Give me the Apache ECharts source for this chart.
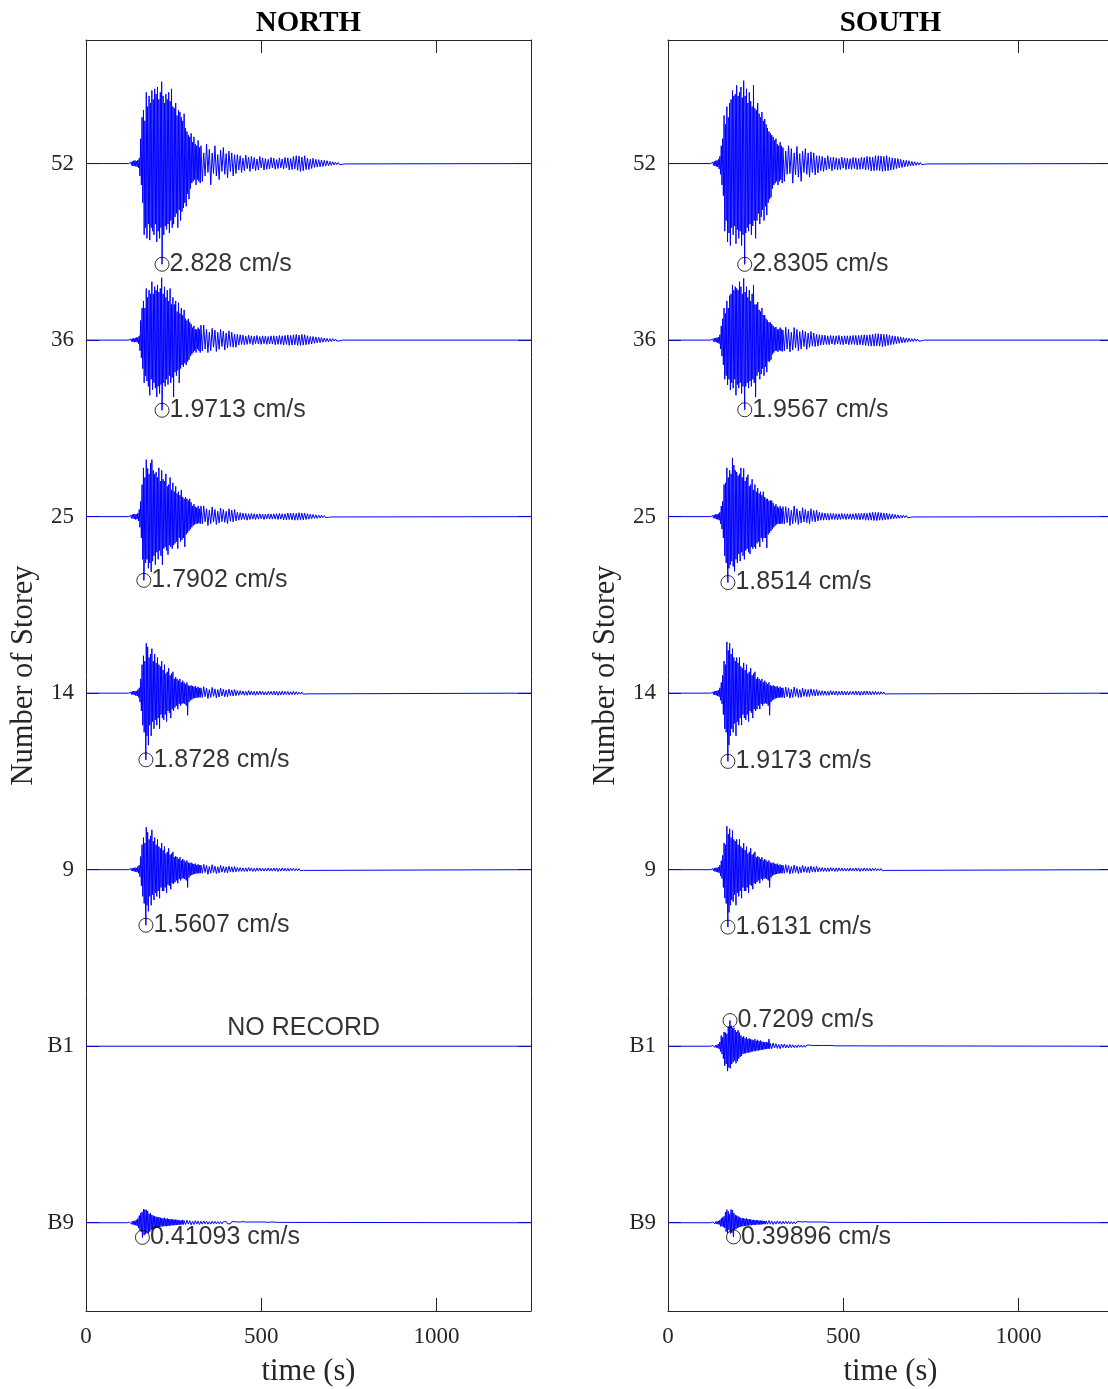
<!DOCTYPE html>
<html>
<head>
<meta charset="utf-8">
<title>Velocity records by storey</title>
<script src="https://cdn.jsdelivr.net/npm/echarts@6/dist/echarts.min.js"></script>
<style>
  html, body { margin: 0; padding: 0; background: #ffffff; }
  #chart { width: 1108px; height: 1389px; }
</style>
</head>
<body>
<div id="chart"></div>
<script>
// Storey levels, bottom to top (index = baseline position on the y axis)
const storeyLabels = ['B9', 'B1', '9', '14', '25', '36', '52'];
const timeTicks = [0, 500, 1000];
const T_MAX = 1270;          // record length, s
const BURST_DT = 2;          // sample spacing in the strong-motion part, s
const CODA_DT = 4;           // sample spacing in the coda, s
const AMP_SCALE = 0.2017;    // storey spacing per cm/s

// Peak velocity (cm/s, signed) and its time (s), per storey B9..52
const northPeakValue = [-0.41093, null, -1.5607, -1.8728, -1.7902, -1.9713, -2.828];
const northPeakTime  = [161, null, 171, 171, 165, 217, 217];
const southPeakValue = [-0.39896, 0.7209, -1.6131, -1.9173, -1.8514, -1.9567, -2.8305];
const southPeakTime  = [187, 177, 171, 171, 171, 219, 219];

// Start time of each record's burst samples (s)
const northBurstStart = [120, null, 124, 124, 124, 124, 124];
const southBurstStart = [124, 124, 124, 124, 124, 124, 124];

// ---- NORTH records (cm/s) ----
const northB9Burst = [0.01,-0.02,0.02,-0.03,0.03,-0.04,0.04,-0.05,0.05,-0.06,0.06,-0.07,0.08,-0.09,0.12,-0.15,
  0.2,-0.22,0.27,-0.25,0.3,-0.3,0.38,-0.35,0.37,-0.32,0.36,-0.28,0.33,-0.3,0.25,-0.25,0.27,-0.2,0.22,-0.18,0.2,-0.17,
  0.18,-0.15,0.17,-0.14,0.15,-0.13,0.16,-0.12,0.14,-0.11,0.13,-0.1,0.12,-0.1,0.14,-0.09,0.11,-0.1,0.12,-0.09,0.1,
  -0.08,0.1,-0.08,0.09,-0.07,0.1,-0.07,0.08,-0.07,0.09,-0.06,0.08,-0.06,0.07,-0.06,0.07,-0.05,0.06,-0.05,0.08,-0.05,0.06];
const northB9Coda = [-0.05,0.07,-0.04,0.06,-0.06,0.04,-0.05,0.06,-0.04,0.05,-0.05,0.04,-0.04,0.05,-0.03,0.04,-0.04,0.03,
  -0.04,0.04,-0.03,0.04,-0.03,0.03,-0.03,
  0.03,-0.03,0.03,-0.02,0.03,-0.03,0.02,-0.03,0.03,-0.02,0.03,-0.02,0.02,-0.03,0.02,-0.02,0.03,-0.02,0.02,-0.02,0.02,
  -0.02,0.02,-0.02,0.02,
  -0.02,0.02,-0.02,0.02,-0.02,0.02,-0.01,0.02,-0.02,0.01,-0.02,0.02,-0.01,0.02,-0.01,0.01,-0.01,0.01,-0.01,0.01];

const north9Burst = [0.02,-0.02,0.03,-0.03,0.04,-0.04,0.05,-0.05,0.06,-0.06,0.05,-0.07,0.09,-0.1,0.13,
  -0.2,0.37,-0.45,0.7,-0.75,0.9,-0.95,0.75,-1.1,1.19,-1.0,1.05,-1.17,0.85,-0.75,0.95,-1.0,1.12,-0.7,0.8,-0.85,0.9,
  -0.65,0.7,-0.75,0.85,-0.6,0.65,-0.8,0.6,-0.5,0.75,-0.6,0.55,-0.6,0.65,-0.5,0.45,-0.65,0.5,-0.42,0.6,-0.45,0.42,
  -0.55,0.45,-0.38,0.5,-0.4,0.35,-0.35,0.38,-0.3,0.35,-0.38,0.3,-0.26,0.35,-0.3,0.26,-0.25,0.3,-0.24,0.26,-0.26,0.22,
  -0.3,0.26,-0.5,0.2,-0.22,0.18,-0.17,0.2,-0.15,0.17,-0.13,0.16,-0.12,0.17,-0.11,0.13,-0.1,0.15,-0.1,0.12,-0.1,0.13];
const north9Coda = [-0.1,0.15,-0.08,0.12,-0.13,0.09,-0.1,0.14,-0.08,0.1,-0.11,0.08,-0.09,0.12,-0.07,0.09,-0.08,0.08,
  -0.09,0.1,-0.06,0.08,-0.07,0.09,-0.06,
  0.06,-0.05,0.06,-0.05,0.05,-0.05,0.05,-0.05,0.06,-0.04,0.05,-0.05,0.04,-0.05,0.05,-0.04,0.05,-0.04,0.04,-0.04,0.04,
  -0.04,0.05,-0.04,0.04,
  -0.04,0.05,-0.04,0.05,-0.05,0.04,-0.04,0.05,-0.04,0.04,-0.04,0.04,-0.04,0.04,-0.03,0.04,-0.03,0.03,-0.03,0.03,-0.03,
  0.02,-0.02,0.02,-0.02];

const north14Burst = [0.02,-0.02,0.03,-0.04,0.05,-0.04,0.06,-0.05,0.06,-0.07,0.06,-0.08,0.1,-0.12,0.15,
  -0.25,0.4,-0.5,0.8,-0.9,1.05,-1.1,0.9,-1.3,1.4,-1.2,1.3,-1.46,1.0,-0.9,1.1,-1.2,1.25,-0.8,0.9,-1.0,1.1,-0.75,0.85,
  -0.9,1.0,-0.7,0.8,-1.0,0.75,-0.6,0.9,-0.7,0.65,-0.75,0.8,-0.6,0.55,-0.8,0.6,-0.5,0.7,-0.55,0.5,-0.7,0.55,-0.45,
  0.6,-0.5,0.4,-0.4,0.45,-0.35,0.4,-0.45,0.35,-0.3,0.4,-0.35,0.3,-0.3,0.35,-0.28,0.3,-0.3,0.25,-0.35,0.3,-0.62,0.22,
  -0.25,0.2,-0.2,0.22,-0.18,0.2,-0.15,0.18,-0.14,0.2,-0.13,0.15,-0.12,0.18,-0.12,0.14,-0.12,0.15];
const north14Coda = [-0.12,0.18,-0.1,0.14,-0.15,0.1,-0.12,0.16,-0.09,0.12,-0.13,0.1,-0.11,0.14,-0.08,0.11,-0.1,0.09,
  -0.1,0.11,-0.07,0.09,-0.08,0.1,-0.07,
  0.07,-0.06,0.07,-0.05,0.06,-0.06,0.05,-0.06,0.07,-0.05,0.06,-0.05,0.05,-0.06,0.05,-0.05,0.06,-0.04,0.05,-0.05,0.04,
  -0.05,0.05,-0.04,0.05,
  -0.05,0.06,-0.05,0.05,-0.06,0.05,-0.05,0.06,-0.05,0.05,-0.04,0.05,-0.05,0.04,-0.04,0.05,-0.04,0.04,-0.04,0.03,-0.03,
  0.03,-0.03,0.02,-0.02];

const north25Burst = [0.02,-0.03,0.03,-0.05,0.06,-0.05,0.07,-0.06,0.07,-0.08,0.06,-0.07,0.1,-0.12,
  0.2,-0.3,0.43,-0.6,0.9,-1.2,1.37,-1.54,1.1,-1.3,1.6,-1.2,1.35,-1.45,1.2,-1.3,1.5,-1.55,1.6,-1.25,1.3,-1.1,1.2,-1.35,
  1.25,-1.0,1.1,-1.2,1.37,-0.95,1.0,-1.1,1.3,-1.35,1.05,-0.9,1.0,-0.85,1.2,-0.95,0.85,-1.07,0.9,-0.8,1.1,-0.85,0.75,
  -0.9,0.95,-0.8,0.7,-0.75,0.85,-0.7,0.65,-0.9,0.7,-0.6,0.6,-0.7,0.75,-0.65,0.55,-0.6,0.5,-0.85,0.55,-0.5,0.5,-0.45,
  0.45,-0.4,0.5,-0.35,0.4,-0.3,0.3,-0.25,0.35,-0.22,0.28,-0.2,0.25,-0.2,0.3,-0.18,0.22,-0.2,0.3];
const north25Coda = [-0.2,0.3,-0.15,0.22,-0.25,0.18,-0.2,0.27,-0.15,0.2,-0.22,0.15,-0.18,0.24,-0.14,0.2,-0.16,0.15,
  -0.2,0.22,-0.13,0.18,-0.15,0.2,-0.12,
  0.12,-0.1,0.11,-0.09,0.1,-0.08,0.09,-0.1,0.08,-0.08,0.09,-0.07,0.08,-0.08,0.07,-0.07,0.08,-0.06,0.07,-0.08,0.07,
  -0.06,0.08,-0.07,0.07,
  -0.07,0.08,-0.07,0.08,-0.08,0.09,-0.07,0.08,-0.09,0.08,-0.09,0.1,-0.08,0.1,-0.09,0.1,-0.1,0.09,-0.1,0.11,-0.09,0.1,
  -0.09,0.1,-0.08,
  0.08,-0.07,0.07,-0.06,0.06,-0.05,0.05,-0.05,0.04,-0.04,0.04,-0.03,0.03,-0.03,0.02,-0.02,0.02,-0.01];

const north36Burst = [0.02,-0.02,0.03,-0.04,0.04,-0.05,0.05,-0.06,0.06,-0.05,0.07,-0.06,0.08,-0.1,0.12,
  -0.3,0.55,-0.5,0.9,-0.8,1.1,-1.2,0.9,-1.0,1.45,-1.15,1.2,-1.3,1.4,-1.55,1.3,-1.1,1.64,-1.4,1.3,-1.2,1.5,-1.35,1.4,
  -1.6,1.55,-1.3,1.35,-1.5,1.45,-1.25,1.75,-1.4,1.3,-1.2,1.5,-1.3,1.2,-1.1,1.4,-1.25,1.1,-1.0,1.45,-1.2,1.0,-1.05,1.2,
  -1.6,1.0,-0.9,1.1,-1.0,0.8,-0.85,1.05,-1.2,0.75,-0.8,0.9,-0.7,0.7,-0.75,0.85,-0.65,0.6,-0.7,0.55,-0.6,0.6,-0.55,0.5,
  -0.45,0.45,-0.4,0.35,-0.35,0.4,-0.3,0.3,-0.35,0.3,-0.25,0.35,-0.3,0.3,-0.35,0.42];
const north36Coda = [-0.3,0.42,-0.25,0.3,-0.35,0.22,-0.3,0.33,-0.2,0.28,-0.32,0.22,-0.26,0.3,-0.18,0.25,-0.28,0.2,
  -0.22,0.26,-0.18,0.22,-0.2,0.17,-0.2,
  0.16,-0.14,0.15,-0.12,0.14,-0.13,0.11,-0.12,0.14,-0.1,0.12,-0.13,0.11,-0.1,0.13,-0.11,0.1,-0.12,0.12,-0.1,0.11,
  -0.12,0.1,-0.11,0.12,
  -0.11,0.12,-0.13,0.11,-0.12,0.13,-0.12,0.12,-0.14,0.13,-0.12,0.14,-0.15,0.13,-0.14,0.15,-0.13,0.16,-0.15,0.14,-0.15,
  0.16,-0.14,0.15,-0.13,
  0.12,-0.12,0.1,-0.11,0.1,-0.09,0.09,-0.08,0.08,-0.07,0.07,-0.06,0.06,-0.05,0.05,-0.05,0.04,-0.04,0.04,-0.03,0.03,
  -0.03,0.02,-0.02,0.02];

const north52Burst = [0.02,-0.03,0.04,-0.05,0.06,-0.07,0.08,-0.07,0.09,-0.08,0.07,-0.09,0.1,-0.12,0.15,
  -0.35,0.7,-0.6,1.3,-1.1,1.5,-2.0,1.2,-1.8,2.0,-2.1,1.6,-1.7,1.9,-2.15,1.7,-1.8,2.05,-1.9,1.8,-2.0,2.1,-1.7,1.95,
  -2.2,2.15,-1.9,1.8,-2.1,2.0,-1.8,2.3,-1.9,1.9,-2.0,1.7,-1.75,1.95,-1.85,1.8,-1.7,2.0,-1.95,1.75,-1.6,2.1,-1.8,1.6,
  -1.7,1.55,-1.5,1.7,-1.4,1.35,-1.8,1.5,-1.3,1.45,-1.6,1.3,-1.35,1.2,-1.25,1.4,-1.1,1.0,-1.2,0.9,-0.85,0.8,-1.0,0.75,
  -0.7,0.85,-0.55,0.6,-0.5,0.75,-0.45,0.55,-0.6,0.5,-0.45,0.65,-0.5,0.45,-0.55,0.5];
const north52Coda = [-0.5,0.3,-0.35,0.55,-0.25,0.4,-0.6,0.3,-0.28,0.5,-0.35,0.25,-0.45,0.38,-0.22,0.45,-0.3,0.28,
  -0.4,0.35,-0.22,0.3,-0.35,0.25,-0.28,
  0.25,-0.18,0.22,-0.25,0.15,-0.2,0.24,-0.14,0.18,-0.22,0.2,-0.15,0.17,-0.2,0.13,-0.18,0.2,-0.12,0.16,-0.18,0.14,
  -0.16,0.12,-0.15,0.17,
  -0.12,0.15,-0.16,0.11,-0.14,0.16,-0.12,0.13,-0.15,0.17,-0.12,0.16,-0.18,0.14,-0.17,0.2,-0.15,0.22,-0.19,0.21,-0.22,
  0.18,-0.2,0.22,-0.17,
  0.15,-0.17,0.12,-0.14,0.15,-0.11,0.12,-0.1,0.11,-0.09,0.1,-0.08,0.09,-0.07,0.08,-0.06,0.06,-0.05,0.05,-0.04,0.04,
  -0.03,0.03,-0.03,0.02,-0.02,0.02,-0.01];

// ---- SOUTH records (cm/s) ----
const southB9Burst = [0.01,-0.01,0.02,-0.02,0.02,-0.03,0.03,-0.03,0.04,-0.04,0.05,-0.05,0.08,-0.1,
  0.12,-0.1,0.15,-0.12,0.18,-0.15,0.3,-0.25,0.37,-0.3,0.32,-0.2,0.25,-0.3,0.37,-0.28,0.35,-0.3,0.27,-0.2,0.22,-0.18,
  0.2,-0.15,0.18,-0.13,0.15,-0.12,0.14,-0.1,0.12,-0.1,0.13,-0.09,0.11,-0.09,0.12,-0.08,0.1,-0.08,0.1,-0.07,0.09,-0.07,
  0.08,-0.06,0.08,-0.06,0.07,-0.06,0.07,-0.05,0.07,-0.05,0.06,-0.05,0.06,-0.05,0.06,-0.04,0.05,-0.04,0.05,-0.04,0.05];
const southB9Coda = [-0.04,0.06,-0.04,0.05,-0.05,0.04,-0.04,0.05,-0.03,0.04,-0.04,0.04,-0.03,0.04,-0.03,0.04,-0.03,0.03,
  -0.03,0.03,-0.03,0.03,-0.02,0.03,-0.02,
  0.02,-0.02,0.03,-0.02,0.02,-0.02,0.02,-0.02,0.02,-0.02,0.02,-0.02,0.02,-0.02,0.02,-0.01,0.02,-0.01,0.01,-0.01,0.01,
  -0.01,0.01,-0.01,0.01];

const southB1Burst = [0.01,-0.02,0.02,-0.02,0.03,-0.03,0.03,-0.04,0.04,-0.05,0.06,-0.08,0.12,-0.15,
  0.3,-0.22,0.25,-0.35,0.4,-0.55,0.38,-0.5,0.35,-0.7,0.55,-0.6,0.6,-0.62,0.58,-0.5,0.5,-0.45,0.52,-0.4,0.45,-0.48,0.4,
  -0.42,0.45,-0.35,0.38,-0.3,0.3,-0.27,0.25,-0.22,0.28,-0.2,0.22,-0.2,0.25,-0.18,0.2,-0.18,0.22,-0.17,0.2,-0.15,0.18,
  -0.15,0.16,-0.13,0.2,-0.14,0.15,-0.12,0.18,-0.12,0.14,-0.11,0.16,-0.1,0.13,-0.1,0.12,-0.09,0.11,-0.08,0.12,-0.08,
  0.1,-0.07,0.2,-0.07,0.08];
const southB1Coda = [-0.07,0.09,-0.05,0.07,-0.06,0.05,-0.07,0.06,-0.04,0.06,-0.05,0.04,-0.05,0.05,-0.04,0.04,-0.04,0.03,
  -0.04,0.04,-0.03,0.03,-0.03,0.03,-0.03,
  0.03,-0.02,0.03,-0.02,0.02,-0.03,0.02,-0.02,0.02,-0.02,0.02,-0.02,0.02,-0.02,0.02,-0.02,0.02,-0.01,0.02,-0.01,0.01,
  -0.01,0.01,-0.01,0.01];

const south9Burst = [0.02,-0.02,0.03,-0.03,0.04,-0.05,0.05,-0.06,0.06,-0.07,0.07,-0.09,0.13,-0.18,0.25,
  -0.25,0.4,-0.5,0.75,-0.8,0.7,-0.95,1.22,-1.1,1.0,-1.2,1.15,-1.0,0.9,-0.85,1.1,-0.9,0.85,-0.7,0.8,-1.0,0.85,-0.65,
  0.7,-0.75,0.85,-0.6,0.65,-0.8,0.6,-0.5,0.75,-0.6,0.55,-0.6,0.65,-0.5,0.45,-0.65,0.5,-0.42,0.6,-0.45,0.42,-0.55,0.45,
  -0.38,0.5,-0.4,0.35,-0.35,0.38,-0.3,0.35,-0.38,0.3,-0.26,0.35,-0.3,0.26,-0.25,0.3,-0.24,0.26,-0.26,0.22,-0.3,0.26,
  -0.5,0.2,-0.22,0.18,-0.17,0.2,-0.15,0.17,-0.13,0.16,-0.12,0.17,-0.11,0.13,-0.1,0.15,-0.1,0.12,-0.1,0.13];
const south9Coda = [-0.1,0.14,-0.08,0.12,-0.12,0.09,-0.1,0.13,-0.08,0.1,-0.11,0.08,-0.09,0.12,-0.07,0.09,-0.08,0.08,
  -0.09,0.1,-0.06,0.08,-0.07,0.09,-0.06,
  0.06,-0.05,0.06,-0.05,0.05,-0.05,0.05,-0.05,0.06,-0.04,0.05,-0.05,0.05,-0.05,0.05,-0.04,0.05,-0.04,0.04,-0.04,0.04,
  -0.04,0.05,-0.04,0.04,
  -0.04,0.05,-0.04,0.05,-0.05,0.04,-0.04,0.05,-0.04,0.04,-0.04,0.04,-0.04,0.04,-0.03,0.04,-0.03,0.03,-0.03,0.03,-0.03,
  0.02,-0.02,0.02,-0.02];

const south14Burst = [0.02,-0.02,0.03,-0.04,0.05,-0.05,0.06,-0.06,0.07,-0.08,0.08,-0.1,0.15,-0.2,0.3,
  -0.3,0.5,-0.6,0.9,-1.0,0.8,-1.1,1.44,-1.3,1.2,-1.46,1.4,-1.2,1.1,-1.0,1.25,-1.1,1.0,-0.85,0.9,-1.2,1.0,-0.8,0.85,
  -0.9,1.0,-0.7,0.75,-0.9,0.7,-0.6,0.85,-0.7,0.65,-0.75,0.8,-0.6,0.55,-0.8,0.6,-0.5,0.7,-0.55,0.5,-0.7,0.55,-0.45,
  0.6,-0.5,0.4,-0.45,0.45,-0.35,0.4,-0.45,0.35,-0.3,0.4,-0.35,0.3,-0.3,0.35,-0.28,0.3,-0.3,0.25,-0.35,0.3,-0.62,0.22,
  -0.25,0.2,-0.2,0.22,-0.18,0.2,-0.15,0.18,-0.14,0.2,-0.13,0.15,-0.12,0.18,-0.12,0.14,-0.12,0.15];
const south14Coda = [-0.13,0.17,-0.1,0.15,-0.14,0.11,-0.12,0.17,-0.09,0.13,-0.12,0.1,-0.12,0.14,-0.09,0.11,-0.1,0.1,
  -0.1,0.12,-0.07,0.1,-0.08,0.1,-0.07,
  0.07,-0.06,0.07,-0.06,0.06,-0.06,0.05,-0.06,0.07,-0.05,0.06,-0.05,0.06,-0.06,0.05,-0.05,0.06,-0.05,0.05,-0.05,0.05,
  -0.05,0.05,-0.04,0.05,
  -0.05,0.06,-0.05,0.06,-0.06,0.05,-0.05,0.06,-0.05,0.06,-0.05,0.05,-0.05,0.05,-0.04,0.05,-0.04,0.04,-0.04,0.04,-0.03,
  0.03,-0.03,0.02,-0.02];

const south25Burst = [0.02,-0.03,0.03,-0.04,0.05,-0.05,0.06,-0.07,0.07,-0.08,0.08,-0.1,0.12,-0.2,
  0.3,-0.35,0.43,-0.6,0.9,-1.1,0.95,-1.3,1.37,-1.54,1.1,-1.45,1.3,-1.35,1.2,-1.25,1.65,-1.4,1.45,-1.54,1.3,-1.2,1.25,
  -1.3,1.15,-1.05,1.2,-1.25,1.37,-1.0,1.1,-1.1,1.35,-1.2,1.0,-0.95,1.1,-0.9,1.18,-1.0,0.85,-1.05,0.9,-0.85,1.05,-0.9,
  0.75,-0.85,0.9,-0.9,0.7,-0.75,0.8,-0.7,0.65,-0.85,0.7,-0.6,0.6,-0.7,0.7,-0.6,0.55,-0.6,0.5,-0.88,0.5,-0.5,0.45,
  -0.45,0.45,-0.4,0.45,-0.35,0.38,-0.3,0.3,-0.25,0.35,-0.22,0.28,-0.2,0.25,-0.2,0.3,-0.2,0.22,-0.2,0.28];
const south25Coda = [-0.2,0.28,-0.17,0.24,-0.25,0.18,-0.2,0.3,-0.16,0.22,-0.22,0.16,-0.18,0.25,-0.15,0.2,-0.17,0.16,
  -0.2,0.22,-0.13,0.17,-0.15,0.18,-0.12,
  0.12,-0.1,0.11,-0.1,0.1,-0.09,0.09,-0.1,0.09,-0.08,0.09,-0.08,0.08,-0.09,0.08,-0.08,0.09,-0.07,0.08,-0.08,0.08,
  -0.07,0.08,-0.08,0.08,
  -0.08,0.09,-0.08,0.09,-0.09,0.1,-0.08,0.1,-0.1,0.09,-0.1,0.11,-0.1,0.12,-0.11,0.12,-0.11,0.12,-0.1,0.11,-0.1,0.1,
  -0.09,0.1,-0.08,
  0.08,-0.07,0.07,-0.06,0.06,-0.05,0.05,-0.05,0.04,-0.04,0.04,-0.03,0.03,-0.03,0.02,-0.02,0.02,-0.01];

const south36Burst = [0.02,-0.02,0.03,-0.04,0.05,-0.05,0.06,-0.06,0.07,-0.08,0.08,-0.1,0.15,-0.25,0.4,
  -0.45,0.6,-0.7,0.9,-1.1,0.75,-1.0,1.1,-1.26,0.9,-1.1,1.25,-1.4,1.3,-1.2,1.55,-1.35,1.4,-1.1,1.5,-1.55,1.45,-1.25,
  1.4,-1.35,1.64,-1.2,1.5,-1.5,1.3,-1.3,1.73,-1.4,1.35,-1.3,1.5,-1.2,1.2,-1.35,1.4,-1.15,1.1,-1.3,1.3,-1.1,1.55,-1.2,
  1.0,-1.6,1.0,-1.0,1.07,-0.9,0.85,-1.1,0.8,-0.95,0.9,-0.8,0.7,-1.0,0.7,-0.75,0.6,-0.9,0.55,-0.6,0.5,-0.6,0.5,-0.55,
  0.45,-0.4,0.4,-0.35,0.35,-0.3,0.37,-0.3,0.3,-0.33,0.3,-0.28,0.35,-0.3,0.3,-0.32,0.28];
const south36Coda = [-0.3,0.36,-0.25,0.3,-0.33,0.22,-0.28,0.35,-0.22,0.3,-0.3,0.24,-0.25,0.28,-0.18,0.24,-0.26,0.2,
  -0.2,0.24,-0.17,0.2,-0.18,0.16,-0.17,
  0.15,-0.14,0.14,-0.13,0.14,-0.12,0.12,-0.13,0.13,-0.11,0.12,-0.13,0.12,-0.11,0.13,-0.12,0.11,-0.13,0.12,-0.11,0.12,
  -0.13,0.12,-0.12,0.13,
  -0.12,0.13,-0.14,0.13,-0.13,0.14,-0.14,0.15,-0.15,0.14,-0.16,0.15,-0.17,0.16,-0.17,0.18,-0.16,0.18,-0.17,0.17,-0.18,
  0.16,-0.17,0.16,-0.15,
  0.14,-0.13,0.12,-0.12,0.11,-0.1,0.1,-0.09,0.09,-0.08,0.07,-0.07,0.06,-0.06,0.05,-0.05,0.04,-0.04,0.04,-0.03,0.03,
  -0.03,0.02,-0.02,0.02];

const south52Burst = [0.02,-0.03,0.04,-0.05,0.06,-0.07,0.08,-0.08,0.09,-0.1,0.12,-0.15,0.2,-0.3,0.5,
  -0.6,0.7,-0.9,1.35,-1.9,1.1,-1.6,1.6,-2.2,1.3,-1.95,1.7,-2.3,1.8,-1.8,2.05,-2.0,1.9,-1.75,1.95,-2.25,2.2,-1.85,1.9,
  -2.1,2.0,-1.9,2.15,-2.3,1.85,-2.0,2.33,-2.05,1.9,-1.95,2.1,-1.8,1.7,-1.9,2.0,-1.7,1.75,-2.0,1.6,-1.75,2.2,-1.6,1.55,
  -2.1,1.5,-1.6,1.7,-1.4,1.4,-1.7,1.3,-1.5,1.45,-1.3,1.2,-1.6,1.25,-1.2,1.1,-1.45,1.0,-1.1,0.9,-1.0,0.85,-0.95,0.8,
  -0.7,0.75,-0.6,0.65,-0.55,0.7,-0.5,0.55,-0.6,0.5,-0.5,0.6,-0.45,0.5,-0.55,0.45];
const south52Coda = [-0.5,0.35,-0.3,0.5,-0.28,0.42,-0.55,0.3,-0.32,0.48,-0.38,0.28,-0.5,0.35,-0.25,0.42,-0.3,0.3,
  -0.38,0.33,-0.25,0.3,-0.32,0.22,-0.26,
  0.22,-0.2,0.2,-0.22,0.16,-0.18,0.22,-0.15,0.17,-0.2,0.18,-0.16,0.16,-0.18,0.14,-0.17,0.18,-0.13,0.16,-0.17,0.15,
  -0.15,0.14,-0.16,0.17,
  -0.14,0.16,-0.17,0.14,-0.16,0.18,-0.15,0.17,-0.18,0.2,-0.17,0.19,-0.21,0.18,-0.2,0.22,-0.19,0.22,-0.2,0.21,-0.22,
  0.2,-0.21,0.22,-0.2,
  0.18,-0.18,0.16,-0.17,0.15,-0.14,0.14,-0.12,0.12,-0.11,0.1,-0.09,0.09,-0.08,0.08,-0.07,0.06,-0.06,0.05,-0.05,0.04,
  -0.04,0.03,-0.03,0.02,-0.02,0.02,-0.01];

const northBursts = [northB9Burst, null, north9Burst, north14Burst, north25Burst, north36Burst, north52Burst];
const northCodas  = [northB9Coda, null, north9Coda, north14Coda, north25Coda, north36Coda, north52Coda];
const southBursts = [southB9Burst, southB1Burst, south9Burst, south14Burst, south25Burst, south36Burst, south52Burst];
const southCodas  = [southB9Coda, southB1Coda, south9Coda, south14Coda, south25Coda, south36Coda, south52Coda];

const SERIF = "'Liberation Serif', 'Times New Roman', serif";
const SANS = "'Liberation Sans', Arial, sans-serif";
const AXIS_COLOR = '#262626';
const TRACE_COLOR = '#0000ff';

// One storey record as [time, offset-baseline] points; the peak sample is merged in.
function tracePoints(level, start, burst, coda, peakT, peakV) {
  const pts = [];
  if (burst) {
    burst.forEach((v, i) => pts.push([start + i * BURST_DT, level + v * AMP_SCALE]));
    const codaStart = start + (burst.length - 1) * BURST_DT + 4;
    coda.forEach((v, i) => pts.push([codaStart + i * CODA_DT, level + v * AMP_SCALE]));
    if (peakT != null) pts.push([peakT, level + peakV * AMP_SCALE]);
    pts.sort((a, b) => a[0] - b[0]);
  }
  const first = pts.length ? pts[0][0] - BURST_DT : 0;
  const last = pts.length ? pts[pts.length - 1][0] + CODA_DT : 0;
  return [[0, level], [first, level]].concat(pts, [[last, level], [T_MAX, level]]);
}

function panelSeries(gridIdx, starts, bursts, codas, peakT, peakV) {
  const out = [];
  storeyLabels.forEach((lab, level) => {
    out.push({
      type: 'line', xAxisIndex: gridIdx * 2, yAxisIndex: gridIdx * 2,
      data: tracePoints(level, starts[level], bursts[level], codas[level], peakT[level], peakV[level]),
      showSymbol: false, symbol: 'none', silent: true, animation: false, sampling: null,
      lineStyle: { color: TRACE_COLOR, width: 1 }, z: 2
    });
  });
  const marks = [];
  storeyLabels.forEach((lab, level) => {
    if (peakV[level] == null) return;
    marks.push({
      value: [peakT[level], level + peakV[level] * AMP_SCALE],
      name: String(Math.abs(peakV[level])) + ' cm/s'
    });
  });
  out.push({
    type: 'scatter', xAxisIndex: gridIdx * 2, yAxisIndex: gridIdx * 2,
    data: marks, symbol: 'circle', symbolSize: 14, silent: true, animation: false, z: 5,
    itemStyle: { color: 'rgba(0,0,0,0)', borderColor: '#000000', borderWidth: 1 },
    label: { show: true, position: 'right', distance: 0, formatter: '{b}',
             fontFamily: SANS, fontSize: 25, color: '#000000' }
  });
  return out;
}

function xAxes(gridIdx) {
  const base = { gridIndex: gridIdx, type: 'value', min: 0, max: T_MAX, splitLine: { show: false },
    axisLine: { show: true, onZero: false, lineStyle: { color: AXIS_COLOR, width: 1 } } };
  return [
    Object.assign({}, base, {
      position: 'bottom',
      axisTick: { show: true, inside: true, length: 13, customValues: timeTicks, lineStyle: { color: AXIS_COLOR } },
      axisLabel: { show: true, customValues: timeTicks, margin: 14, fontFamily: SERIF, fontSize: 23, color: AXIS_COLOR,
                   formatter: v => String(v) },
      name: 'time (s)', nameLocation: 'middle', nameGap: 45,
      nameTextStyle: { fontFamily: SERIF, fontSize: 30.5, color: AXIS_COLOR }
    }),
    Object.assign({}, base, {
      position: 'top',
      axisTick: { show: true, inside: true, length: 13, customValues: timeTicks, lineStyle: { color: AXIS_COLOR } },
      axisLabel: { show: false }
    })
  ];
}

function yAxes(gridIdx) {
  const levels = storeyLabels.map((s, i) => i);
  const base = { gridIndex: gridIdx, type: 'value', min: -0.5, max: 6.7, splitLine: { show: false },
    axisLine: { show: true, onZero: false, lineStyle: { color: AXIS_COLOR, width: 1 } } };
  return [
    Object.assign({}, base, {
      position: 'left',
      axisTick: { show: true, inside: true, length: 13, customValues: levels, lineStyle: { color: AXIS_COLOR } },
      axisLabel: { show: true, customValues: levels, margin: 12, fontFamily: SERIF, fontSize: 23, color: AXIS_COLOR,
                   formatter: v => storeyLabels[Math.round(v)] },
      name: 'Number of Storey', nameLocation: 'middle', nameGap: 47, nameRotate: 90,
      nameTextStyle: { fontFamily: SERIF, fontSize: 30.5, color: AXIS_COLOR }
    }),
    Object.assign({}, base, {
      position: 'right',
      axisTick: { show: true, inside: true, length: 13, customValues: levels, lineStyle: { color: AXIS_COLOR } },
      axisLabel: { show: false }
    })
  ];
}

const chart = echarts.init(document.getElementById('chart'), null, { renderer: 'canvas' });

const series = []
  .concat(panelSeries(0, northBurstStart, northBursts, northCodas, northPeakTime, northPeakValue))
  .concat(panelSeries(1, southBurstStart, southBursts, southCodas, southPeakTime, southPeakValue));

// Note on the missing basement record of the north array
series.push({
  type: 'scatter', xAxisIndex: 0, yAxisIndex: 0, silent: true, animation: false,
  symbolSize: 0, data: [{ value: [621, 1], name: 'NO RECORD' }],
  label: { show: true, position: 'top', distance: 6, formatter: '{b}',
           fontFamily: SANS, fontSize: 25, color: '#000000' }
});

chart.setOption({
  animation: false,
  backgroundColor: '#ffffff',
  title: [
    { text: 'NORTH', left: 303.5, top: 4, textAlign: 'center',
      textStyle: { fontFamily: SERIF, fontWeight: 'bold', fontSize: 29, color: '#000000' } },
    { text: 'SOUTH', left: 885.5, top: 4, textAlign: 'center',
      textStyle: { fontFamily: SERIF, fontWeight: 'bold', fontSize: 29, color: '#000000' } }
  ],
  // fixed plot boxes: no automatic shrinking to keep names inside the canvas
  grid: [
    { left: 86, top: 40, width: 445, height: 1271, containLabel: false, outerBoundsMode: 'none' },
    { left: 668, top: 40, width: 445, height: 1271, containLabel: false, outerBoundsMode: 'none' }
  ],
  xAxis: xAxes(0).concat(xAxes(1)),
  yAxis: yAxes(0).concat(yAxes(1)),
  series: series
});
</script>
</body>
</html>
